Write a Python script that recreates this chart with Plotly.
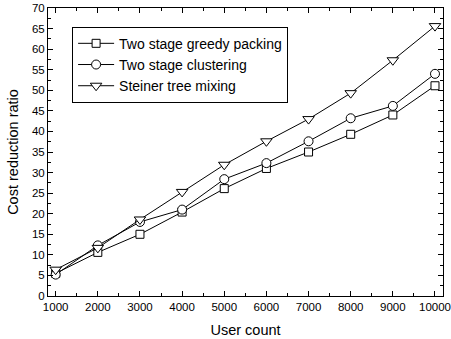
import plotly.graph_objects as go

user_count = [1000, 2000, 3000, 4000, 5000, 6000, 7000, 8000, 9000, 10000]
greedy_packing = [5.5, 10.6, 15.0, 20.4, 26.1, 31.0, 35.0, 39.3, 44.0, 51.1]
clustering = [5.2, 12.3, 18.0, 21.0, 28.4, 32.3, 37.6, 43.2, 46.2, 54.0]
steiner_mixing = [6.4, 11.7, 18.6, 25.3, 31.9, 37.6, 43.0, 49.3, 57.3, 65.6]

series = [
    ("Two stage greedy packing", greedy_packing, "square", 8),
    ("Two stage clustering", clustering, "circle", 9),
    ("Steiner tree mixing", steiner_mixing, "triangle-down", 10),
]

fig = go.Figure()
for name, ys, sym, sz in series:
    fig.add_trace(go.Scatter(
        x=user_count, y=ys, name=name, mode="lines+markers",
        line=dict(color="black", width=1),
        marker=dict(symbol=sym, size=sz, color="white",
                    line=dict(color="black", width=1)),
    ))

font = "Liberation Sans, Arial, sans-serif"
fig.update_layout(
    width=451, height=339,
    margin=dict(l=48, r=8, t=8, b=43, autoexpand=False),
    plot_bgcolor="white", paper_bgcolor="white",
    font=dict(family=font, color="black", size=11.5),
    showlegend=True,
    legend=dict(x=0.061, y=0.935, xanchor="left", yanchor="top",
                bgcolor="white", bordercolor="black", borderwidth=1,
                font=dict(size=14), tracegroupgap=0, itemwidth=36),
    xaxis=dict(
        range=[818, 10190], tickvals=user_count,
        ticktext=[str(v) for v in user_count],
        ticks="inside", ticklen=5, tickcolor="black",
        showline=True, linecolor="black", linewidth=1, mirror="ticks",
        showgrid=False, zeroline=False, ticklabeloverflow="allow",
        automargin=False,
        minor=dict(tickvals=[1500 + 1000 * i for i in range(9)], ticks="inside",
                   ticklen=3, tickcolor="black"),
        title=dict(text="User count", font=dict(size=14.5), standoff=13),
        tickfont=dict(size=11.5),
    ),
    yaxis=dict(
        range=[0, 70], dtick=5, tick0=0,
        ticks="inside", ticklen=5, tickcolor="black",
        showline=True, linecolor="black", linewidth=1, mirror="ticks",
        showgrid=False, zeroline=False, automargin=False,
        minor=dict(dtick=2.5, ticks="inside", ticklen=3, tickcolor="black"),
        title=dict(text="Cost reduction ratio", font=dict(size=14.5), standoff=9),
        tickfont=dict(size=11.5),
    ),
)

fig.write_html("out.html", config={"displayModeBar": False},
               post_script="document.body.style.margin='0';document.body.style.overflow='hidden';")
